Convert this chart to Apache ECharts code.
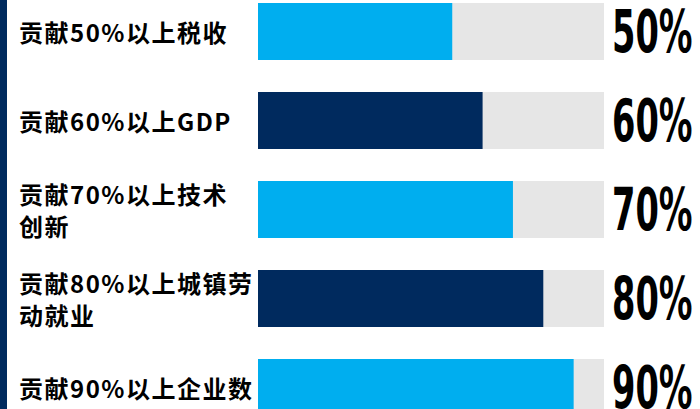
<!DOCTYPE html>
<html>
<head>
<meta charset="utf-8">
<script src="https://cdn.jsdelivr.net/npm/echarts@6/dist/echarts.min.js"></script>
<style>
  html, body { margin: 0; padding: 0; background: #ffffff; }
  #chart { width: 700px; height: 409px; }
  /* category names are set with a little extra tracking */
  #chart text[style*="Noto Sans CJK"] { letter-spacing: 1.5px; }
</style>
</head>
<body>
<div id="chart"></div>
<script>
// Contribution thresholds, one bar per category
const categories = [
  '贡献50%以上税收',
  '贡献60%以上GDP',
  '贡献70%以上技术\n创新',
  '贡献80%以上城镇劳\n动就业',
  '贡献90%以上企业数'
];
const shares = [50, 60, 70, 80, 90];
const shareLabels = shares.map(v => v + '%');

// Alternating bar fills
const palette = ['#00AEEF', '#002A5E'];

const chart = echarts.init(document.getElementById('chart'), null, { renderer: 'svg' });

chart.setOption({
  animation: false,
  backgroundColor: '#ffffff',
  graphic: [{
    type: 'rect',
    left: 0,
    top: 0,
    shape: { width: 7, height: 409 },
    style: { fill: '#002A5E' },
    silent: true
  }],
  grid: {
    left: 258, right: 96, top: -13, bottom: -23,
    outerBoundsMode: 'none'
  },
  xAxis: {
    type: 'value',
    min: -14,
    max: 100,
    startValue: -14,
    show: false
  },
  yAxis: {
    type: 'category',
    data: categories,
    inverse: true,
    axisLine: { show: false },
    axisTick: { show: false },
    splitLine: { show: false },
    axisLabel: {
      align: 'left',
      margin: 239,
      color: '#000000',
      fontFamily: '"Noto Sans CJK SC", sans-serif',
      fontWeight: 'bold',
      fontSize: 24,
      lineHeight: 32
    }
  },
  series: [{
    type: 'bar',
    data: shares,
    barWidth: 57,
    showBackground: true,
    backgroundStyle: { color: '#E6E6E6' },
    itemStyle: {
      color: p => palette[p.dataIndex % 2]
    },
    label: { show: false }
  }, {
    // big condensed percentage beside each track
    type: 'custom',
    data: shares.map((v, i) => [v, i]),
    encode: { x: 0, y: 1 },
    clip: false,
    renderItem(params, api) {
      const idx = api.value(1);
      const pt = api.coord([api.value(0), idx]);
      const cs = params.coordSys;
      return {
        type: 'text',
        x: cs.x + cs.width + 8,
        y: pt[1],
        scaleX: 0.58,
        style: {
          text: shareLabels[idx],
          font: 'bold 58px "DejaVu Sans"',
          lineHeight: 44,
          fill: '#000000',
          align: 'left',
          verticalAlign: 'middle'
        }
      };
    }
  }]
});
</script>
</body>
</html>
